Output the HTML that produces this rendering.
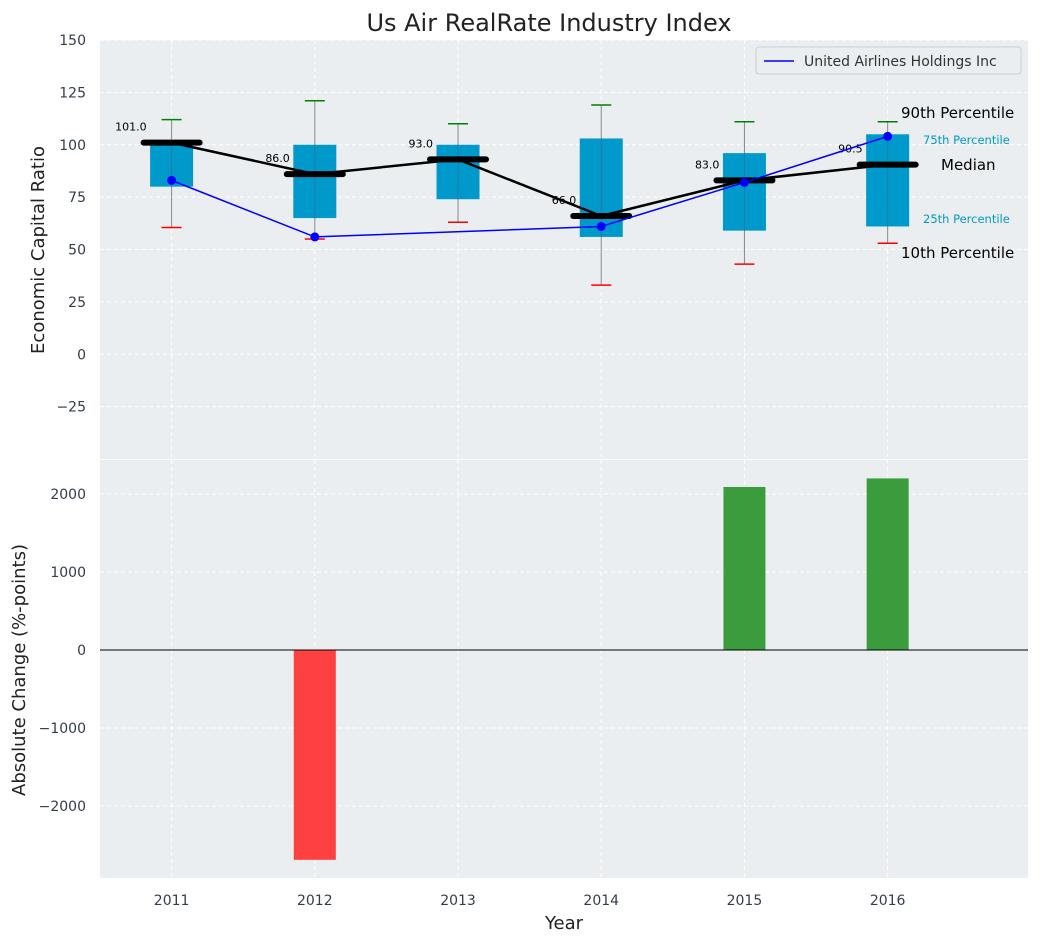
<!DOCTYPE html>
<html><head><meta charset="utf-8"><style>
body{margin:0;background:#fff;font-family:"Liberation Sans","DejaVu Sans",sans-serif}
svg text{font-family:"DejaVu Sans","Liberation Sans",sans-serif}
</style></head><body>
<svg id="c" width="1039" height="942"></svg>
<script>
const years=[2011,2012,2013,2014,2015,2016];
const q1=[80,65,74,56,59,61];
const q3=[101,100,100,103,96,105];
const med=[101,86,93,66,83,90.5];
const p10=[60.5,55,63,33,43,53];
const p90=[112,121,110,119,111,111];
const ual=[83,56,null,61,82,104];
const changes=[0,-2690,0,0,2090,2200];
const topTicks=[150,125,100,75,50,25,0,-25];
const botTicks=[2000,1000,0,-1000,-2000];
const NS="http://www.w3.org/2000/svg";
const svg=document.getElementById('c');
function el(t,a,p){const e=document.createElementNS(NS,t);for(const k in a)e.setAttribute(k,a[k]);(p||svg).appendChild(e);return e;}
const X0=100,X1=1028;
const x=v=>X0+(v-2010.5)/(2016.98-2010.5)*(X1-X0);
const T0=40,T1=459,yT=v=>T0+(150-v)/200*(T1-T0);
const B0=460,B1=878,yB=v=>B0+(2436-v)/(2436+2923)*(B1-B0);
// backgrounds
let r=el('rect',{x:X0,y:T0,width:X1-X0,height:T1-T0,fill:'#eaeef0'});

r=el('rect',{x:X0,y:B0,width:X1-X0,height:B1-B0,fill:'#eaeef0'});

// grids
years.forEach(yr=>{[[T0,T1],[B0,B1]].forEach(([a,b])=>el('line',{x1:x(yr),x2:x(yr),y1:a,y2:b,stroke:'#fff','stroke-dasharray':'4,3'}));
 let t=el('text',{x:x(yr),y:905,'text-anchor':'middle','font-size':14,fill:'#333d4a'});t.textContent=yr;
 });
topTicks.forEach(v=>{el('line',{x1:X0,x2:X1,y1:yT(v),y2:yT(v),stroke:'#fff','stroke-dasharray':'4,3'});
 let t=el('text',{x:86,y:yT(v)+5,'text-anchor':'end','font-size':14,fill:'#333d4a'});t.textContent=v<0?'\u2212'+(-v):v;
 });
botTicks.forEach(v=>{el('line',{x1:X0,x2:X1,y1:yB(v),y2:yB(v),stroke:'#fff','stroke-dasharray':'4,3'});
 let t=el('text',{x:86,y:yB(v)+5,'text-anchor':'end','font-size':14,fill:'#333d4a'});t.textContent=v<0?'\u2212'+(-v):v;
 });
// boxes
years.forEach((yr,i)=>{const cx=x(yr);
 el('line',{x1:cx,x2:cx,y1:yT(p10[i]),y2:yT(p90[i]),stroke:'#888','stroke-width':1});
 let b=el('rect',{x:cx-21.5,y:yT(q3[i]),width:43,height:yT(q1[i])-yT(q3[i]),fill:'#0099cc'});
 
 el('line',{x1:cx,x2:cx,y1:yT(q3[i]),y2:yT(q1[i]),stroke:'#557','stroke-width':1,opacity:0.5});
 el('line',{x1:cx-10,x2:cx+10,y1:yT(p90[i]),y2:yT(p90[i]),stroke:'green','stroke-width':1.5});
 el('line',{x1:cx-10,x2:cx+10,y1:yT(p10[i]),y2:yT(p10[i]),stroke:'red','stroke-width':1.5});
});
// median connecting line
el('polyline',{points:years.map((yr,i)=>x(yr)+','+yT(med[i])).join(' '),fill:'none',stroke:'#000','stroke-width':2.5});
years.forEach((yr,i)=>{const cx=x(yr);
 let m=el('line',{x1:cx-28,x2:cx+28,y1:yT(med[i]),y2:yT(med[i]),stroke:'#000','stroke-width':6,'stroke-linecap':'round'});
 
 let t=el('text',{x:cx-25,y:yT(med[i])-12,'text-anchor':'end','font-size':11,fill:'#000'});t.textContent=med[i].toFixed(1);
 });
// UAL line
const pts=years.map((yr,i)=>ual[i]==null?null:[x(yr),yT(ual[i])]).filter(p=>p);
let ln=el('polyline',{points:pts.map(p=>p.join(',')).join(' '),fill:'none',stroke:'blue','stroke-width':1.5});

pts.forEach(p=>el('circle',{cx:p[0],cy:p[1],r:4.5,fill:'blue'}));
// annotations
const lx=x(2016);
[['90th Percentile',901,118,15,'#000'],['75th Percentile',923,144,11.5,'#0099cc'],['Median',941,170,15,'#000'],['25th Percentile',923,223,11.5,'#0099cc'],['10th Percentile',901,258,15,'#000']].forEach(a=>{
 let t=el('text',{x:a[1],y:a[2],'font-size':a[3],fill:a[4]});t.textContent=a[0];
 });
// legend
let lg=el('g',{});
el('rect',{x:756,y:47,width:265,height:27,rx:3,fill:'#eaeef0',stroke:'#ccc'},lg);
el('line',{x1:764,x2:794,y1:61,y2:61,stroke:'blue','stroke-width':1.5},lg);
let lt=el('text',{x:804,y:66,'font-size':14,fill:'#333'},lg);lt.textContent='United Airlines Holdings Inc';
// bars
years.forEach((yr,i)=>{if(!changes[i])return;const v=changes[i];
 let b=el('rect',{x:x(yr)-21,y:Math.min(yB(v),yB(0)),width:42,height:Math.abs(yB(v)-yB(0)),fill:v<0?'#ff4040':'#3a9c3d'});
 });
el('line',{x1:X0,x2:X1,y1:yB(0),y2:yB(0),stroke:'#000','stroke-width':1});
// titles
let t=el('text',{x:549,y:31,'text-anchor':'middle','font-size':24,fill:'#222'});t.textContent='Us Air RealRate Industry Index';

t=el('text',{x:564,y:929,'text-anchor':'middle','font-size':18,fill:'#222'});t.textContent='Year';

t=el('text',{x:0,y:0,'text-anchor':'middle','font-size':18,fill:'#222',transform:'translate(44,250) rotate(-90)'});t.textContent='Economic Capital Ratio';

t=el('text',{x:0,y:0,'text-anchor':'middle','font-size':18,fill:'#222',transform:'translate(25,670) rotate(-90)'});t.textContent='Absolute Change (%-points)';

</script>
</body></html>
